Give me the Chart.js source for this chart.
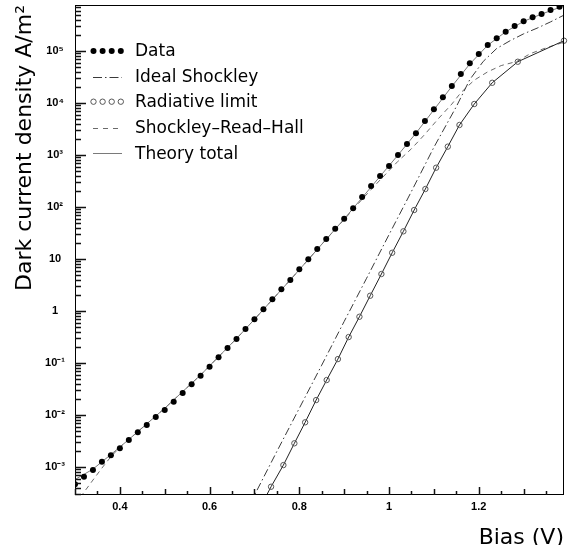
<!DOCTYPE html>
<html><head><meta charset="utf-8">
<script src="https://cdn.jsdelivr.net/npm/chart.js@4/dist/chart.umd.min.js"></script>
<style>html,body{margin:0;padding:0;background:#fff;}canvas{display:block;}</style>
</head><body>
<canvas id="c" width="569" height="545"></canvas>
<script>
// ---- data (bias in V, current density in A/m^2) ----
const dataBias = [0.30,0.32,0.34,0.36,0.38,0.40,0.42,0.44,0.46,0.48,0.50,0.52,0.54,0.56,0.58,0.60,0.62,0.64,0.66,0.68,0.70,0.72,0.74,0.76,0.78,0.80,0.82,0.84,0.86,0.88,0.90,0.92,0.94,0.96,0.98,1.00,1.02,1.04,1.06,1.08,1.10,1.12,1.14,1.16,1.18,1.20,1.22,1.24,1.26,1.28,1.30,1.32,1.34,1.36,1.38];
const dataCurrent = [4.68e-4,6.50e-4,8.75e-4,1.26e-3,1.68e-3,2.29e-3,3.30e-3,4.65e-3,6.43e-3,9.16e-3,1.25e-2,1.80e-2,2.65e-2,3.89e-2,5.70e-2,8.49e-2,0.129,0.194,0.290,0.451,0.692,1.08,1.68,2.61,3.94,6.34,9.86,15.6,24.3,38.3,59.6,94.4,156,254,394,614,1000,1630,2610,4510,7570,1.29e4,2.12e4,3.61e4,5.79e4,8.75e4,1.30e5,1.75e5,2.35e5,3.03e5,3.72e5,4.45e5,5.15e5,6.14e5,7.11e5];

const idealBias = [0.69,0.75,0.80,0.85,0.90,0.95,1.00,1.05,1.10,1.15,1.18,1.21,1.24,1.27,1.30,1.33,1.36,1.39];
const idealCurrent = [1.95e-4,2.00e-3,1.35e-2,9.12e-2,0.631,4.27,29.5,200,1410,8510,2.82e4,6.31e4,1.12e5,1.58e5,2.14e5,2.75e5,3.63e5,4.90e5];

const radBias = [0.712,0.737,0.7645,0.789,0.813,0.8375,0.861,0.886,0.910,0.934,0.958,0.983,1.007,1.032,1.056,1.081,1.105,1.131,1.157,1.190,1.230,1.287,1.39];
const radCurrent = [1.62e-4,4.18e-4,1.09e-3,2.86e-3,7.24e-3,1.94e-2,4.71e-2,0.119,0.316,0.776,1.97,5.15,13.2,34.1,87.5,222,570,1450,3780,9570,2.45e4,6.22e4,1.58e5];

const srhBias = [0.30,0.34,0.36,0.38,0.40,0.42,0.46,0.50,0.54,0.58,0.62,0.66,0.70,0.74,0.78,0.82,0.86,0.90,0.94,0.98,1.02,1.05,1.08,1.11,1.14,1.16,1.19,1.22,1.25,1.285,1.315,1.35,1.39];
const srhCurrent = [1.91e-4,5.62e-4,9.55e-4,1.58e-3,2.40e-3,3.39e-3,6.76e-3,1.35e-2,2.82e-2,5.89e-2,0.132,0.295,0.692,1.66,3.98,9.77,24.0,57.5,141,331,759,1320,2510,5010,9550,1.58e4,2.75e4,3.98e4,5.25e4,6.31e4,8.91e4,1.15e5,1.48e5];

const totalBias = [0.30,0.32,0.34,0.38,0.42,0.46,0.50,0.54,0.58,0.62,0.66,0.70,0.74,0.78,0.82,0.86,0.90,0.94,0.98,1.02,1.06,1.10,1.14,1.18,1.22,1.26,1.30,1.34,1.39];
const totalCurrent = [5.75e-4,7.24e-4,9.12e-4,1.74e-3,3.39e-3,6.76e-3,1.35e-2,2.82e-2,5.89e-2,0.132,0.295,0.692,1.66,3.98,9.77,24.0,58.9,151,389,1000,2630,7410,2.09e4,5.62e4,1.29e5,2.34e5,3.72e5,5.13e5,7.41e5];

const seriesLabels = ["Data","Ideal Shockley","Radiative limit","Shockley–Read–Hall","Theory total"];
const xTickValues = [0.4,0.6,0.8,1.0,1.2];
const xTickLabels = ["0.4","0.6","0.8","1","1.2"];
const yTickValues = [1e-3,1e-2,1e-1,1,10,1e2,1e3,1e4,1e5];
const yTickLabels = ["10⁻³","10⁻²","10⁻¹","1","10","10²","10³","10⁴","10⁵"];
const xMinorTicks = [0.30,0.35,0.40,0.45,0.50,0.55,0.60,0.65,0.70,0.75,0.80,0.85,0.90,0.95,1.00,1.05,1.10,1.15,1.20,1.25,1.30,1.35];
const xRange = [0.30, 1.39];
const yRange = [2.9e-4, 7.67e5];
const xTitle = "Bias (V)";
const yTitle = "Dark current density A/m²";

const pts = (xs, ys) => xs.map((x, i) => ({x: x, y: ys[i]}));

// ---- plugin: ROOT-like frame with inner ticks ----
const frameTicks = {
  id: 'frameTicks',
  afterDraw(chart) {
    const ctx = chart.ctx;
    const a = chart.chartArea;
    const xs = chart.scales.x, ys = chart.scales.y;
    const L = Math.round(a.left), R = Math.round(a.right), T = Math.round(a.top), B = Math.round(a.bottom);
    ctx.save();
    ctx.setLineDash([]);
    ctx.globalAlpha = 1;
    ctx.fillStyle = '#000';
    ctx.fillRect(L, T, R - L, 1);
    ctx.fillRect(L, B - 1, R - L, 1);
    ctx.fillRect(L, T, 1, B - T);
    ctx.fillRect(R - 1, T, 1, B - T);
    ctx.fillStyle = '#111';
    const decades = [-4,-3,-2,-1,0,1,2,3,4,5];
    decades.forEach(d => {
      for (let m = 1; m <= 9; m++) {
        const v = m * Math.pow(10, d);
        if (v < yRange[0] || v > yRange[1]) continue;
        const py = Math.round(ys.getPixelForValue(v));
        const len = m === 1 ? 11 : 6;
        ctx.fillRect(L, py - 0.25, len, 1.5);
      }
    });
    xMinorTicks.forEach((v, k) => {
      const px = Math.round(xs.getPixelForValue(v));
      const len = (k % 4 === 2) ? 8 : (k % 2 === 0 ? 6 : 4);
      ctx.fillRect(px - 0.25, B - len, 1.5, len);
    });
    ctx.restore();
  }
};

// ---- plugin: ROOT-like legend ----
const rootLegend = {
  id: 'rootLegend',
  afterDraw(chart) {
    const ctx = chart.ctx;
    const rows = [51, 76.7, 101.7, 127.7, 153.3];
    const x0 = 93, x1 = 122, tx = 135;
    ctx.save();
    chart.data.datasets.forEach((ds, i) => {
      const yy = rows[i];
      if (ds.legendKind === 'dots' || ds.legendKind === 'rings') {
        for (let j = 0; j < 4; j++) {
          const cx = 93.5 + j * 9.1;
          ctx.beginPath();
          ctx.arc(cx, yy, ds.legendKind === 'dots' ? 3.0 : 2.7, 0, Math.PI * 2);
          if (ds.legendKind === 'dots') { ctx.fillStyle = '#000'; ctx.fill(); }
          else { ctx.strokeStyle = '#555'; ctx.lineWidth = 1; ctx.stroke(); }
        }
      } else {
        ctx.beginPath();
        ctx.strokeStyle = ds.borderColor;
        ctx.lineWidth = 1;
        ctx.setLineDash(ds.legendDash || []);
        ctx.moveTo(x0, Math.round(yy) + 0.5); ctx.lineTo(x1, Math.round(yy) + 0.5);
        ctx.stroke();
        ctx.setLineDash([]);
      }
      ctx.fillStyle = '#000';
      ctx.font = '17px "DejaVu Sans"';
      ctx.textBaseline = 'middle';
      ctx.textAlign = 'left';
      ctx.fillText(ds.label, tx, yy + 1);
    });
    ctx.restore();
  }
};

new Chart(document.getElementById('c'), {
  type: 'scatter',
  data: {
    datasets: [
      {label: seriesLabels[0], data: pts(dataBias, dataCurrent), showLine: false,
       pointStyle: 'circle', pointRadius: 3.0, pointBackgroundColor: '#000', pointBorderColor: '#000', pointBorderWidth: 0,
       borderColor: '#000', order: 0, legendKind: 'dots'},
      {label: seriesLabels[1], data: pts(idealBias, idealCurrent), showLine: true, pointRadius: 0,
       borderColor: '#3a3a3a', borderWidth: 1, borderDash: [8, 3, 1.5, 3], order: 3, legendKind: 'line', legendDash: [9, 3, 1.5, 3]},
      {label: seriesLabels[2], data: pts(radBias, radCurrent), showLine: true,
       pointStyle: 'circle', pointRadius: 2.7, pointBackgroundColor: 'rgba(0,0,0,0)', pointBorderColor: '#555', pointBorderWidth: 1,
       borderColor: '#222', borderWidth: 1, order: 2, legendKind: 'rings', clip: {left: 0, top: 0, right: 5, bottom: 0}},
      {label: seriesLabels[3], data: pts(srhBias, srhCurrent), showLine: true, pointRadius: 0,
       borderColor: '#6a6a6a', borderWidth: 1, borderDash: [5, 4], order: 4, legendKind: 'line', legendDash: [5, 5]},
      {label: seriesLabels[4], data: pts(totalBias, totalCurrent), showLine: true, pointRadius: 0,
       borderColor: '#7a7a7a', borderWidth: 1, order: 1, legendKind: 'line'}
    ]
  },
  options: {
    responsive: false,
    animation: false,
    layout: {padding: {left: 0, top: 5, right: 4, bottom: 0}},
    plugins: {legend: {display: false}, tooltip: {enabled: false}},
    elements: {line: {tension: 0}},
    scales: {
      x: {
        type: 'linear', min: xRange[0], max: xRange[1],
        grid: {display: false, drawTicks: false}, border: {display: false},
        afterBuildTicks: s => { s.ticks = xTickValues.map(v => ({value: v})); },
        afterFit: s => { s.height = 50; s.paddingLeft = 0; s.paddingRight = 0; s.paddingTop = 0; s.paddingBottom = 0; },
        ticks: {autoSkip: false, maxRotation: 0, padding: 5, color: '#000',
                font: {family: '"Liberation Sans"', size: 11, weight: 'bold'},
                callback: (v, i) => xTickLabels[i]},
        title: {display: true, text: xTitle, align: 'end', color: '#000',
                font: {family: '"DejaVu Sans"', size: 22, lineHeight: 0.65}, padding: {top: 0, bottom: 0}}
      },
      y: {
        type: 'logarithmic', min: yRange[0], max: yRange[1],
        grid: {display: false, drawTicks: false}, border: {display: false},
        afterBuildTicks: s => { s.ticks = yTickValues.map(v => ({value: v})); },
        afterFit: s => { s.width = 75; s.paddingLeft = 0; s.paddingRight = 0; s.paddingTop = 0; s.paddingBottom = 0; },
        ticks: {autoSkip: false, crossAlign: 'center', padding: 10, color: '#000',
                font: {family: '"Liberation Sans"', size: 11, weight: 'bold'},
                callback: (v, i) => yTickLabels[i]},
        title: {display: true, text: yTitle, align: 'end', color: '#000',
                font: {family: '"DejaVu Sans"', size: 22}, padding: {top: 12, bottom: 0}}
      }
    }
  },
  plugins: [frameTicks, rootLegend]
});
</script>
</body></html>
